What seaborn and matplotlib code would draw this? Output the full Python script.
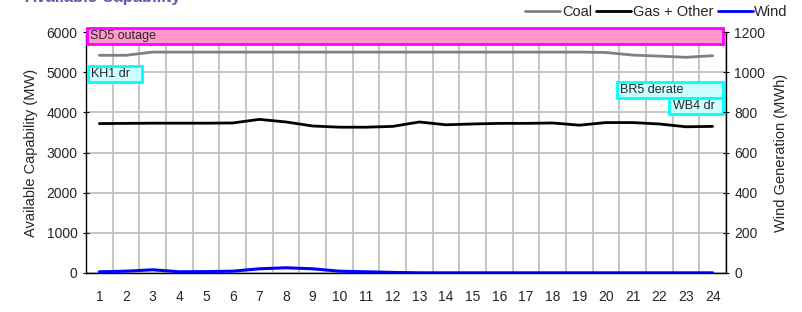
import numpy as np
import pandas as pd
import matplotlib
matplotlib.use("Agg")
import matplotlib.pyplot as plt
import seaborn as sns
from matplotlib.patches import Rectangle
from matplotlib.lines import Line2D

# data
hours = list(range(1, 25))
coal = [5420, 5420, 5500, 5500, 5500, 5500, 5500, 5500, 5500, 5500, 5500, 5500,
        5500, 5500, 5500, 5500, 5500, 5500, 5500, 5490, 5425, 5400, 5370, 5410]
gas_other = [3720, 3725, 3730, 3730, 3730, 3735, 3825, 3760, 3660, 3630, 3630, 3650,
             3760, 3690, 3710, 3725, 3725, 3735, 3680, 3745, 3745, 3710, 3640, 3650]
wind = [6, 9, 16, 6, 7, 9, 21, 26, 21, 9, 6, 3,
        1, 1, 1, 1, 1, 1, 1, 1, 1, 1, 1, 1]

# outage / derate notes: label, x0, x1, y0, y1, kind
notes = [("SD5 outage", 0.54, 24.4, 5700, 6100, "outage"),
         ("KH1 dr", 0.58, 2.6, 4750, 5150, "derate"),
         ("BR5 derate", 20.42, 24.4, 4350, 4750, "derate"),
         ("WB4 dr", 22.38, 24.4, 3950, 4350, "derate")]

df = pd.DataFrame({"Hour": hours, "Coal": coal, "Gas + Other": gas_other, "Wind": wind})

sns.set_style("white")
plt.rcParams["font.family"] = ["Liberation Sans", "DejaVu Sans"]

fig = plt.figure(figsize=(8.02, 3.12), dpi=100)
ax = fig.add_axes([86 / 802, 1 - 273 / 312, 640 / 802, 241 / 312])
ax2 = ax.twinx()

sns.lineplot(data=df, x="Hour", y="Coal", ax=ax, color="#808080", lw=2)
sns.lineplot(data=df, x="Hour", y="Gas + Other", ax=ax, color="black", lw=2)
sns.lineplot(data=df, x="Hour", y="Wind", ax=ax2, color="#0000FF", lw=2.2)

ax.set_xlim(0.5, 24.5)
ax.set_ylim(0, 6000)
ax2.set_ylim(0, 1200)
ax.set_xticks(hours)
ax.set_xticks(np.arange(0.5, 25, 1), minor=True)
ax.set_yticks(range(0, 6001, 1000))
ax2.set_yticks(range(0, 1201, 200))

ax.grid(which="minor", axis="x", color="#C0C0C0", lw=1.3)
ax.grid(which="major", axis="y", color="#C0C0C0", lw=1.3)
ax.grid(which="major", axis="x", visible=False)
ax.set_axisbelow(True)

ax.tick_params(axis="x", which="major", length=0, labelsize=10, pad=12)
ax.tick_params(axis="x", which="minor", length=5, direction="out", color="black")
ax.tick_params(axis="y", length=5, direction="inout", labelsize=10, color="black")
ax2.tick_params(axis="y", length=5, direction="inout", labelsize=10, color="black")

for a in (ax, ax2):
    for s in a.spines.values():
        s.set_visible(False)
ax.spines["left"].set_visible(True)
ax.spines["bottom"].set_visible(True)
ax2.spines["right"].set_visible(True)
for a, side in ((ax, "left"), (ax, "bottom"), (ax2, "right")):
    a.spines[side].set_color("black")
    a.spines[side].set_linewidth(1)

ax.set_xlabel("")
ax.set_ylabel("Available Capability (MW)", fontsize=10.5, labelpad=6)
ax2.set_ylabel("Wind Generation (MWh)", fontsize=10.5, labelpad=6)

for label, x0, x1, y0, y1, kind in notes:
    if kind == "outage":
        fc, ec = "#FF99CC", "#FF00FF"
    else:
        fc, ec = "#CCFFFF", "#00FFFF"
    ax.add_patch(Rectangle((x0, y0), x1 - x0, y1 - y0, facecolor=fc, edgecolor=ec,
                           lw=2, clip_on=False, zorder=5))
    ax.text(x0 + 0.12, (y0 + y1) / 2, label, fontsize=9, va="center", ha="left",
            zorder=6, clip_on=False)

handles = [Line2D([], [], color="#808080", lw=2),
           Line2D([], [], color="black", lw=2),
           Line2D([], [], color="#0000FF", lw=2)]
fig.legend(handles, ["Coal", "Gas + Other", "Wind"], loc="center right",
           bbox_to_anchor=(0.982, 0.962), ncol=3, frameon=False, fontsize=10.5,
           handlelength=2.4, handletextpad=0.1, columnspacing=0.3,
           borderaxespad=0, borderpad=0)

fig.text(25 / 802, 1 - 1.7 / 312, "Available Capability", color="#5b5ba8",
         fontsize=12, fontweight="bold", va="baseline", ha="left")

fig.savefig("out.png", dpi=100)
